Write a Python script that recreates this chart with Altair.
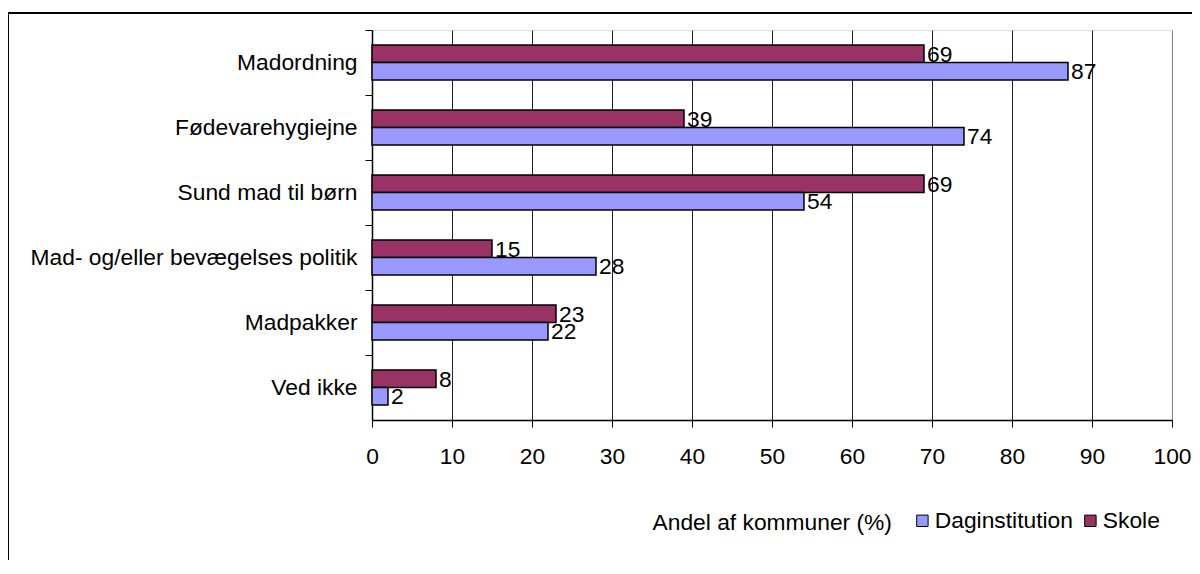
import altair as alt
import pandas as pd

categories = ["Madordning", "Fødevarehygiejne", "Sund mad til børn",
              "Mad- og/eller bevægelses politik", "Madpakker", "Ved ikke"]
skole = [69, 39, 69, 15, 23, 8]
daginstitution = [87, 74, 54, 28, 22, 2]
series = ["Daginstitution", "Skole"]
colors = ["#9999FF", "#993366"]

rows = []
for c, d, s in zip(categories, daginstitution, skole):
    rows.append({"kategori": c, "serie": "Skole", "andel": s})
    rows.append({"kategori": c, "serie": "Daginstitution", "andel": d})
df = pd.DataFrame(rows)

FONT = "Liberation Sans"
FS = 22.8

y_enc = alt.Y("kategori:N", sort=categories,
              scale=alt.Scale(paddingInner=0.46, paddingOuter=0.23),
              axis=alt.Axis(title=None, labelFontSize=FS, labelFont=FONT, labelColor="black",
                            tickColor="black", tickSize=7, labelPadding=8,
                            domainColor="black", domainWidth=1.5,
                            tickOffset=-32.5, labelOffset=32.5, grid=False,
                            labelLimit=500))
yoff = alt.YOffset("serie:N", sort=["Skole", "Daginstitution"])

x_enc = alt.X("andel:Q",
              scale=alt.Scale(domain=[0, 100], nice=False),
              axis=alt.Axis(values=list(range(0, 101, 10)), title="Andel af kommuner (%)",
                            titleFontSize=FS, titleFont=FONT, titleFontWeight="normal",
                            titleColor="black", titleX=280, titleY=102,
                            titleAlign="left", titleBaseline="middle", titleAnchor="start",
                            labelFontSize=FS, labelFont=FONT, labelColor="black",
                            labelFlush=False, labelOverlap=False,
                            tickColor="black", tickSize=7, labelPadding=18,
                            domainColor="black", domainWidth=1.5,
                            grid=True,
                            gridColor={"condition": {"test": "datum.value === 100", "value": "#808080"},
                                       "value": "#222222"},
                            gridWidth=1))

bars = alt.Chart(df).mark_bar(stroke="black", strokeWidth=1.5).encode(
    x=x_enc,
    y=y_enc,
    yOffset=yoff,
    color=alt.Color("serie:N", scale=alt.Scale(domain=series, range=colors),
                    legend=alt.Legend(title=None, orient="none", legendX=539, legendY=479,
                                      direction="horizontal", symbolType="square",
                                      symbolSize=130, symbolStrokeColor="black",
                                      symbolStrokeWidth=1, symbolOpacity=1,
                                      labelFontSize=FS, labelFont=FONT,
                                      labelColor="black", labelOffset=1, columnPadding=6)),
)

labels = alt.Chart(df).mark_text(align="left", baseline="middle", dx=3, dy=1,
                                 fontSize=FS, font=FONT, color="black").encode(
    x="andel:Q",
    y=alt.Y("kategori:N", sort=categories),
    yOffset=yoff,
    text="andel:Q",
)

border = alt.Chart(alt.Data(values=[{"a": 1}])).mark_rect(
    fill=None, fillOpacity=0, stroke="black", strokeWidth=2).encode(
    x=alt.value(-364), x2=alt.value(1000), y=alt.value(-17), y2=alt.value(800))

chart = alt.layer(bars, labels, border).properties(
    width=800, height=390,
    padding={"left": 364, "top": 22, "right": 20, "bottom": 140},
    autosize=alt.AutoSizeParams(type="none"),
).configure_view(stroke="#808080", strokeWidth=1.5).configure(background="white")

chart.save("out.html", embed_options={"renderer": "svg", "actions": False})
